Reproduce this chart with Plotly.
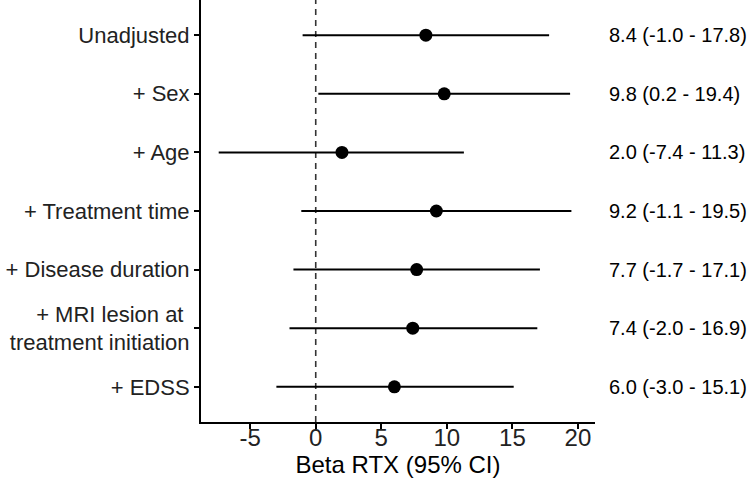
import plotly.graph_objects as go

models = ["Unadjusted", "+ Sex", "+ Age", "+ Treatment time", "+ Disease duration",
          "+ MRI lesion at\u00a0<br>treatment initiation", "+ EDSS"]
beta = [8.4, 9.8, 2.0, 9.2, 7.7, 7.4, 6.0]
ci_low = [-1.0, 0.2, -7.4, -1.1, -1.7, -2.0, -3.0]
ci_high = [17.8, 19.4, 11.3, 19.5, 17.1, 16.9, 15.1]
x_ticks = [-5, 0, 5, 10, 15, 20]
x_ticktext = ["-5", "0", "5", "10", "15", "20"]

labels = [f"{b:.1f} ({l:.1f} - {h:.1f})" for b, l, h in zip(beta, ci_low, ci_high)]

FONT = "Liberation Sans, Arial, sans-serif"

fig = go.Figure()
fig.add_trace(go.Scatter(
    x=beta, y=models, mode="markers",
    marker=dict(color="black", size=13),
    error_x=dict(type="data", symmetric=False,
                 array=[h - b for b, h in zip(beta, ci_high)],
                 arrayminus=[b - l for b, l in zip(beta, ci_low)],
                 color="black", thickness=2, width=0),
    showlegend=False, hoverinfo="skip"))

fig.add_shape(type="line", x0=0, x1=0, y0=0, y1=1, yref="paper", xref="x",
              line=dict(color="#333333", width=1.6, dash="6px,5px"), layer="below")

for m, t in zip(models, labels):
    fig.add_annotation(x=1.03, xref="paper", y=m, yref="y", text=t, showarrow=False,
                       xanchor="left", yanchor="middle",
                       font=dict(family=FONT, size=20, color="black"))

fig.update_layout(
    width=752, height=483,
    margin=dict(l=201, r=157, t=0, b=61),
    paper_bgcolor="white", plot_bgcolor="white",
    font=dict(family=FONT, size=20, color="black"),
    xaxis=dict(range=[-8.75, 21.3], tickvals=x_ticks, ticktext=x_ticktext,
               showgrid=False, zeroline=False,
               showline=True, linecolor="black", linewidth=2,
               ticks="outside", ticklen=5, tickwidth=2, tickcolor="black",
               ticklabelstandoff=-12,
               tickfont=dict(family=FONT, size=24, color="#222222"),
               title=dict(text="Beta RTX (95% CI)", standoff=0,
                          font=dict(family=FONT, size=24, color="black"))),
    yaxis=dict(type="category", categoryorder="array", categoryarray=models,
               range=[6.6, -0.6], showgrid=False, zeroline=False,
               showline=True, linecolor="black", linewidth=2,
               ticks="outside", ticklen=5, tickwidth=2, tickcolor="black",
               tickfont=dict(family=FONT, size=22, color="#222222")),
)

fig.write_html("out.html", config={"displayModeBar": False},
               post_script="document.body.style.margin='0';")
